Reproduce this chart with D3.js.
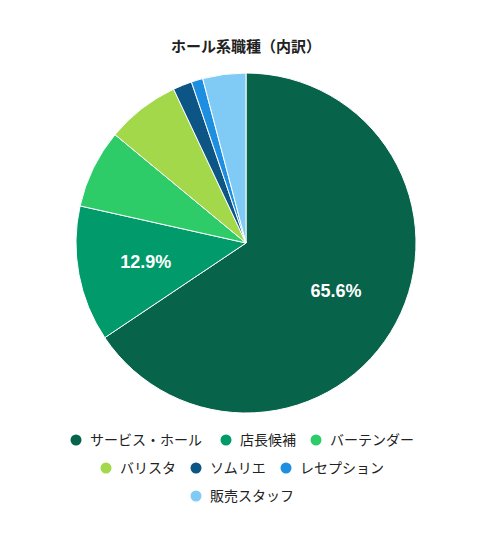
<!DOCTYPE html><html><head><meta charset="utf-8"><script src="https://cdn.jsdelivr.net/npm/d3@7"></script>
<style>body{margin:0;background:#fff;font-family:"Noto Sans CJK JP","Liberation Sans",sans-serif}</style></head><body><svg id="c" width="491" height="535"></svg>
<script>
const categories=["サービス・ホール","店長候補","バーテンダー","バリスタ","ソムリエ","レセプション","販売スタッフ"];
const values=[65.6,12.9,7.5,7.0,1.8,1.1,4.1];
const colors=["#07634a","#019a6a","#2ecc68","#a2d84a","#0d5584","#1e8fe0","#7fcbf6"];
const svg=d3.select("#c");
svg.append("text").attr("x",246).attr("y",52).attr("text-anchor","middle").attr("font-size",15).attr("font-weight","bold").attr("fill","#222").text("ホール系職種（内訳）");
const cx=246,cy=243,r=170;
const pie=d3.pie().sort(null)(values);
const arc=d3.arc().innerRadius(0).outerRadius(r);
const g=svg.append("g").attr("transform",`translate(${cx},${cy})`);
g.selectAll("path").data(pie).join("path").attr("d",arc).attr("fill",(d,i)=>colors[i]).attr("stroke","#fff").attr("stroke-width",1);
const la=d3.arc().innerRadius(r*0.6).outerRadius(r*0.6);
g.selectAll("text").data(pie.filter(d=>d.data>10)).join("text").attr("transform",d=>`translate(${la.centroid(d)})`)
 .attr("text-anchor","middle").attr("dy","0.35em").attr("fill","#fff").attr("font-size",18).attr("font-weight","bold")
 .attr("font-family","Liberation Sans,Arial,sans-serif").text(d=>d.data.toFixed(1)+"%");
const rows=[[0,1,2],[3,4,5],[6]];
rows.forEach((row,ri)=>{
  const items=row.map(i=>({i,w:22+categories[i].length*15}));
  const total=d3.sum(items,d=>d.w)+(items.length-1)*8;
  let x=246-total/2;const y=440+ri*28;
  items.forEach(it=>{
    svg.append("circle").attr("cx",x+6).attr("cy",y).attr("r",5.5).attr("fill",colors[it.i]);
    svg.append("text").attr("x",x+20).attr("y",y).attr("dy","0.35em").attr("font-size",14).attr("fill","#222").text(categories[it.i]);
    x+=it.w+8;
  });
});
</script></body></html>
